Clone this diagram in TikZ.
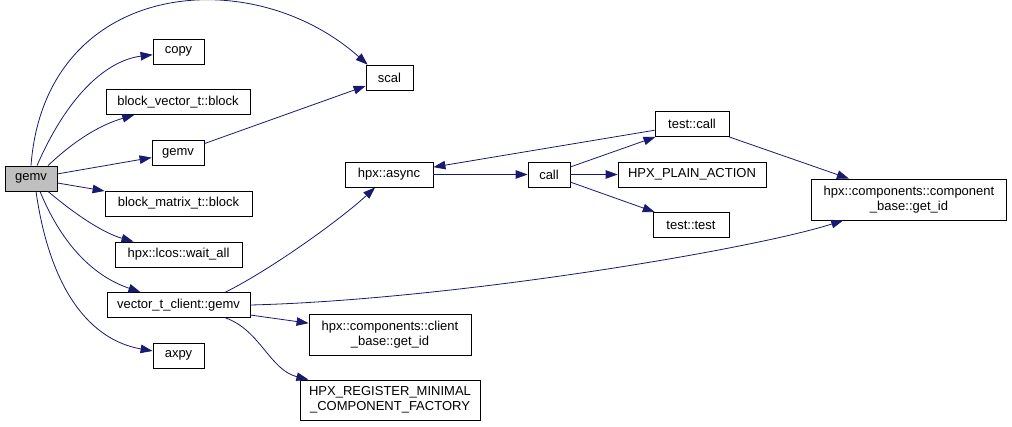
\documentclass[tikz,border=0pt]{standalone}
\usepackage{fontspec}
\setmainfont{Liberation Sans}
\usepackage{xcolor}
\usetikzlibrary{arrows.meta}
\definecolor{edgeblue}{HTML}{191970}
\definecolor{rootgray}{HTML}{BFBFBF}

\begin{document}
\begin{tikzpicture}[x=1pt,y=-1pt,>={Triangle[length=12pt,width=8.5pt]},
fn/.style={draw,line width=0.8pt,fill=white,inner xsep=3pt,inner ysep=1pt,minimum height=25pt,font=\fontsize{13}{15}\selectfont,align=center},
link/.style={->,draw=edgeblue,line width=0.8pt}]
\useasboundingbox(0,0)rectangle(1012,426);
\node[fn,fill=rootgray,minimum width=52pt](gemv)at(31,178.5){gemv};
\node[fn,minimum width=51pt](copy)at(178.5,51.5){copy};
\node[fn,minimum width=47pt](scal)at(389.5,77.5){scal};
\node[fn,minimum width=144pt](bvec)at(178,102){block\_vector\_t::block};
\node[fn,minimum width=52pt](gemvb)at(178,153){gemv};
\node[fn,minimum width=147pt](bmat)at(178.5,203.5){block\_matrix\_t::block};
\node[fn,minimum width=127pt](waitall)at(178.5,254.5){hpx::lcos::wait\_all};
\node[fn,minimum width=143pt](vclient)at(178.5,305){vector\_t\_client::gemv};
\node[fn,minimum width=51pt](axpy)at(178.5,355.5){axpy};
\node[fn,minimum width=88pt](async)at(389,174.5){hpx::async};
\node[fn,minimum width=42pt](call)at(549,174.5){call};
\node[fn,minimum width=74pt](testcall)at(692,124){test::call};
\node[fn,minimum width=148pt](plain)at(692,174.5){HPX\_PLAIN\_ACTION};
\node[fn,minimum width=76pt](testtest)at(691,225){test::test};
\node[fn,minimum width=195pt,minimum height=41pt](compid)at(909,199.5){hpx::components::component\\\_base::get\_id};
\node[fn,minimum width=162pt,minimum height=41pt](clientid)at(390,334.5){hpx::components::client\\\_base::get\_id};
\node[fn,minimum width=180pt,minimum height=40pt](register)at(390,400){HPX\_REGISTER\_MINIMAL\\\_COMPONENT\_FACTORY};
\draw[link](gemv.north)..controls(45,-20)and(250,-40)..([xshift=2pt]scal.north west);
\draw[link]([xshift=6pt]gemv.north)..controls(70,90)and(110,60)..(copy);
\draw[link]([xshift=17pt]gemv.north)..controls(75,140)and(100,125)..(bvec);
\draw[link](gemv)--(gemvb);
\draw[link](gemv)--(bmat);
\draw[link]([xshift=17pt]gemv.south)..controls(70,210)and(100,232)..(waitall);
\draw[link]([xshift=9pt]gemv.south)..controls(60,240)and(90,275)..(vclient);
\draw[link]([xshift=5pt]gemv.south)..controls(50,290)and(90,340)..(axpy);
\draw[link](gemvb)--(scal);
\draw[link]([xshift=47pt]vclient.north)..controls(270,270)and(340,220)..(async);
\draw[link](vclient.east)..controls(450,300)and(750,250)..(compid);
\draw[link](vclient)--(clientid);
\draw[link]([xshift=47pt]vclient.south)..controls(260,330)and(270,370)..(register);
\draw[link](async)--(call);
\draw[link](call)--(testcall);
\draw[link](call)--(plain);
\draw[link](call)--(testtest);
\draw[link](testcall)--(async);
\draw[link](testcall)--(compid);
\end{tikzpicture}
\end{document}
